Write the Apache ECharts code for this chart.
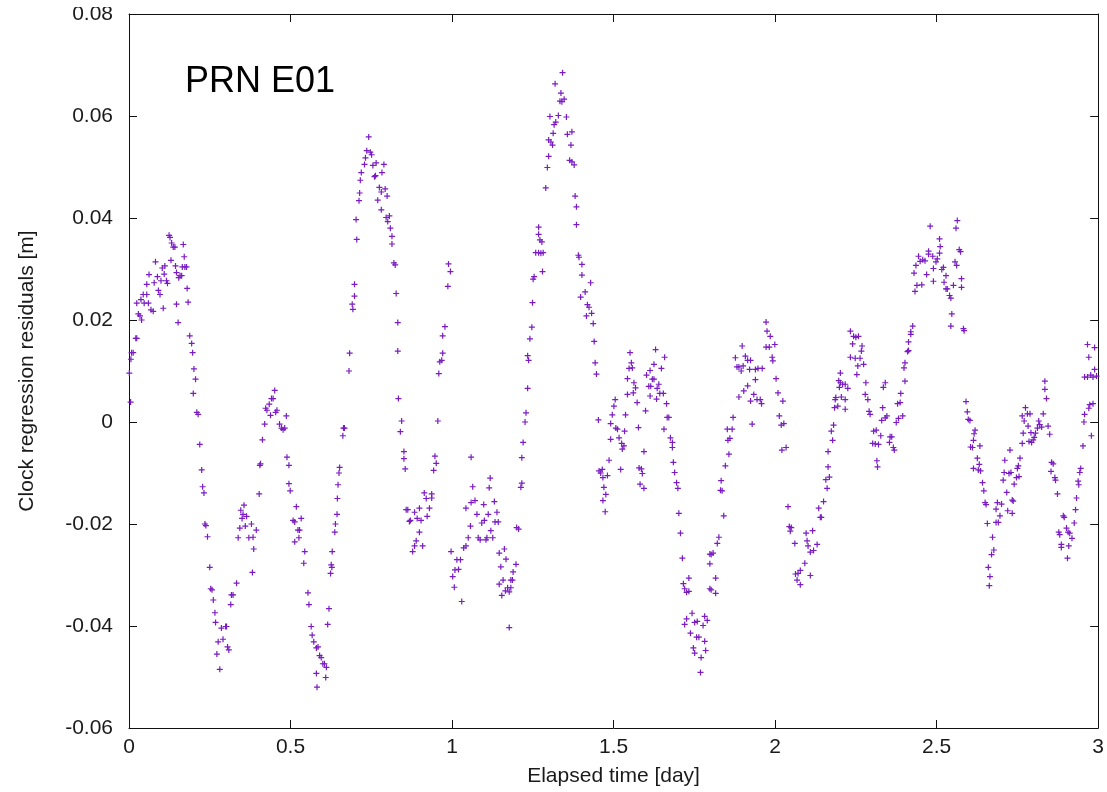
<!DOCTYPE html>
<html>
<head>
<meta charset="utf-8">
<script src="https://cdn.jsdelivr.net/npm/echarts@6/dist/echarts.min.js"></script>
<style>
html,body{margin:0;padding:0;background:#fff;}
#chart{width:1107px;height:792px;}
</style>
</head>
<body>
<div id="chart"></div>
<script>
// ---- data ----
const chartTitle = 'PRN E01';
const xAxisName = 'Elapsed time [day]';
const yAxisName = 'Clock regression residuals [m]';
const xTickValues = [0, 0.5, 1, 1.5, 2, 2.5, 3];
const xTickLabels = ['0', '0.5', '1', '1.5', '2', '2.5', '3'];
const yTickValues = [-0.06, -0.04, -0.02, 0, 0.02, 0.04, 0.06, 0.08];
const yTickLabels = ['-0.06', '-0.04', '-0.02', '0', '0.02', '0.04', '0.06', '0.08'];

// elapsed time [day]
const elapsedDays = [
0.001,0.005,0.006,0.008,0.013,0.021,0.024,0.024,0.029,0.034,0.037,0.039,0.044,0.047,0.055,0.055,0.060,0.062,0.068,0.075,
0.078,0.082,0.088,0.091,0.096,0.099,0.103,0.106,0.109,0.111,0.116,0.119,0.124,0.127,0.130,0.132,0.137,0.142,0.144,0.147,
0.147,0.152,0.154,0.158,0.163,0.165,0.168,0.171,0.173,0.178,0.180,0.183,0.188,0.194,0.197,0.199,0.201,0.206,0.210,0.214,
0.219,0.225,0.228,0.232,0.235,0.238,0.243,0.250,0.253,0.257,0.261,0.266,0.268,0.272,0.276,0.281,0.286,0.291,0.299,0.302,
0.305,0.309,0.315,0.317,0.322,0.333,0.338,0.343,0.346,0.350,0.353,0.356,0.360,0.364,0.371,
0.379,0.382,0.384,0.386,0.394,0.403,0.405,0.407,0.413,0.420,0.423,0.427,0.434,0.438,0.441,0.446,0.451,0.454,0.458,0.466,
0.472,0.477,0.482,0.487,0.489,0.495,0.495,0.499,0.508,0.513,0.513,0.518,0.523,0.526,0.528,0.533,0.541,0.544,0.554,0.557,
0.564,0.567,0.572,0.580,0.580,0.582,0.585,0.590,0.595,0.600,0.605,0.609,0.611,0.615,0.619,0.624,0.626,0.628,0.629,0.637,
0.639,0.644,0.645,0.647,0.650,0.652,0.662,0.664,0.667,0.681,0.683,0.691,0.693,0.698,0.698,0.703,0.705,0.712,0.714,0.716,
0.719,0.729,0.732,0.736,0.742,0.747,0.751,0.755,0.760,
0.763,0.765,0.770,0.775,0.781,0.781,0.783,0.789,0.793,0.796,0.799,0.801,0.806,0.809,0.814,0.814,0.820,0.824,0.827,0.832,
0.832,0.834,0.840,0.844,0.851,0.851,0.855,0.858,0.863,0.868,0.871,0.878,0.884,0.884,0.889,0.892,0.899,0.899,0.904,0.909,
0.914,0.920,0.923,0.930,0.937,0.937,0.943,0.947,0.951,0.956,0.959,0.962,0.968,0.971,0.971,0.978,0.987,0.989,0.995,0.997,
1.002,1.007,1.009,1.015,1.020,1.026,1.030,1.036,1.043,1.043,1.050,1.057,1.059,1.059,1.064,1.071,1.077,1.081,1.087,1.092,
1.098,1.100,1.105,1.108,1.112,1.115,1.118,1.120,1.126,1.131,1.133,1.139,1.143,
1.146,1.146,1.151,1.154,1.158,1.162,1.165,1.167,1.172,1.177,1.177,1.182,1.182,1.187,1.189,1.198,1.200,1.206,1.213,1.216,
1.216,1.220,1.226,1.229,1.234,1.234,1.237,1.241,1.247,1.249,1.251,1.254,1.259,1.268,1.268,1.268,1.272,1.275,1.278,1.280,
1.282,1.290,1.295,1.299,1.299,1.303,1.306,1.311,1.313,1.316,1.319,1.321,1.329,1.334,1.337,1.340,1.342,1.347,1.354,1.357,
1.364,1.368,1.371,1.371,1.378,1.381,1.385,1.385,1.391,1.393,1.398,1.402,1.402,1.412,1.416,1.419,1.424,1.429,1.432,1.437,
1.440,1.443,1.447,1.453,1.455,1.460,1.465,1.467,1.467,1.470,1.474,1.476,1.481,1.486,1.491,1.491,1.496,1.501,1.505,1.507,
1.512,1.517,1.522,1.525,1.527,
1.532,1.534,1.537,1.543,1.543,1.548,1.551,1.555,1.558,1.561,1.563,1.568,1.573,1.577,1.579,1.582,1.586,1.589,1.594,1.594,
1.599,1.602,1.609,1.613,1.613,1.615,1.620,1.625,1.625,1.630,1.633,1.635,1.640,1.643,1.648,1.654,1.656,1.658,1.664,1.666,
1.671,1.676,1.682,1.682,1.685,1.689,1.695,1.699,1.702,1.707,1.713,1.716,1.720,1.720,1.726,1.726,1.733,1.733,1.738,1.743,
1.747,1.751,1.751,1.757,1.759,1.764,1.769,1.771,1.777,1.782,1.782,1.785,1.790,1.798,1.798,1.798,1.802,1.802,1.808,1.816,
1.816,1.821,1.826,1.831,1.833,1.836,1.841,1.846,1.852,1.854,1.857,1.860,1.867,1.870,1.877,1.882,1.888,1.888,1.895,1.898,
1.901,1.903,1.908,1.915,1.915,
1.921,1.924,1.924,1.929,1.934,1.939,1.939,1.944,1.947,1.954,1.958,1.960,1.972,1.972,1.975,1.982,1.985,1.991,1.993,1.999,
2.003,2.009,2.013,2.019,2.021,2.024,2.027,2.034,2.040,2.044,2.047,2.050,2.061,2.063,2.068,2.071,2.078,2.078,2.092,2.096,
2.099,2.102,2.109,2.109,2.116,2.119,2.130,2.135,2.140,2.143,2.150,2.157,2.161,2.164,2.164,2.168,2.174,2.178,2.181,2.184,
2.186,2.188,2.194,2.197,2.199,2.202,2.202,2.205,2.209,2.217,2.217,2.217,2.225,2.233,2.233,2.240,2.243,2.248,2.250,2.253,
2.256,2.258,2.263,2.267,2.269,2.274,2.279,2.281,2.287,2.291,2.294,2.302,
2.305,2.310,2.313,2.315,2.317,2.320,2.327,2.330,2.333,2.335,2.341,2.341,2.346,2.354,2.356,2.361,2.366,2.369,2.375,2.379,
2.382,2.387,2.389,2.395,2.399,2.402,2.402,2.410,2.413,2.413,2.420,2.420,2.426,2.430,2.433,2.436,2.439,2.444,2.449,2.454,
2.457,2.464,2.469,2.475,2.475,2.480,2.488,2.490,2.490,2.498,2.502,2.509,2.509,2.511,2.516,2.521,2.523,2.529,2.529,2.533,
2.540,2.544,2.544,2.547,2.552,2.557,2.560,2.562,2.564,2.570,2.574,2.577,2.577,2.583,2.585,2.591,2.595,2.598,2.603,2.605,
2.611,2.614,2.614,2.616,2.619,2.626,2.629,2.632,2.634,2.636,2.642,2.646,2.650,2.653,2.657,2.660,2.663,2.665,2.670,2.673,
2.677,2.684,2.684,2.688,
2.691,2.696,2.701,2.706,2.709,2.711,2.717,2.720,2.724,2.727,2.730,2.734,2.734,2.737,2.740,2.747,2.750,2.753,2.755,2.758,
2.765,2.765,2.768,2.771,2.775,2.781,2.783,2.786,2.789,2.792,2.794,2.799,2.802,2.806,2.812,2.816,2.819,2.825,2.830,2.835,
2.835,2.840,2.845,2.850,2.854,2.856,2.861,2.866,2.868,2.874,2.878,2.881,2.886,2.886,2.892,2.895,2.902,2.905,2.907,2.909,
2.912,2.919,2.926,2.930,2.933,2.938,2.940,2.943,2.946,2.953,2.956,2.958,2.958,2.967,2.967,2.971,2.971,2.974,2.977,2.979,
2.984,2.984,2.989,2.989,2.995
];

// clock regression residuals [m]
const residualsM = [
0.0096,0.0039,0.0123,0.0136,0.0136,0.0164,0.0164,0.0233,0.0212,0.0208,0.0240,0.0200,0.0250,0.0233,0.0270,0.0250,0.0233,0.0289,0.0220,0.0217,
0.0273,0.0314,0.0285,0.0258,0.0250,0.0277,0.0302,0.0223,0.0290,0.0306,0.0277,0.0272,0.0366,0.0362,0.0317,0.0351,0.0343,0.0343,0.0306,0.0293,
0.0231,0.0195,0.0283,0.0287,0.0287,0.0304,0.0348,0.0324,0.0304,0.0304,0.0262,0.0235,0.0169,0.0154,0.0136,0.0056,0.0104,0.0084,0.0019,0.0015,
-0.0044,-0.0094,-0.0127,-0.0139,-0.0200,-0.0203,-0.0225,-0.0285,-0.0327,-0.0329,-0.0349,-0.0374,-0.0393,-0.0455,-0.0431,-0.0485,-0.0404,-0.0426,-0.0401,-0.0401,
-0.0441,-0.0447,-0.0358,-0.0339,-0.0339,-0.0316,-0.0227,-0.0208,-0.0173,-0.0189,-0.0181,-0.0163,-0.0204,-0.0185,-0.0227,
-0.0200,-0.0295,-0.0226,-0.0249,-0.0212,-0.0141,-0.0085,-0.0082,-0.0035,-0.0004,0.0027,0.0023,0.0035,0.0013,0.0046,0.0046,0.0062,0.0019,0.0023,-0.0004,
-0.0012,-0.0015,-0.0012,0.0012,-0.0069,-0.0085,-0.0121,-0.0135,-0.0193,-0.0196,-0.0235,-0.0166,-0.0212,-0.0227,-0.0212,-0.0189,-0.0277,-0.0254,-0.0335,-0.0358,
-0.0401,-0.0418,-0.0431,-0.0443,-0.0493,-0.0520,-0.0441,-0.0458,-0.0462,-0.0474,-0.0474,-0.0501,-0.0481,-0.0397,-0.0366,-0.0297,-0.0280,-0.0285,-0.0254,-0.0216,
-0.0200,-0.0181,-0.0150,-0.0123,-0.0100,-0.0089,-0.0027,-0.0012,-0.0012,0.0100,0.0135,0.0231,0.0221,0.0247,0.0270,0.0397,0.0358,0.0434,0.0449,0.0474,
0.0489,0.0505,0.0518,0.0532,0.0559,0.0529,0.0524,0.0503,0.0481,
0.0483,0.0508,0.0435,0.0460,0.0451,0.0416,0.0489,0.0505,0.0457,0.0401,0.0443,0.0393,0.0404,0.0380,0.0364,0.0349,0.0312,0.0308,0.0252,0.0195,
0.0139,0.0046,-0.0019,0.0002,-0.0058,-0.0072,-0.0092,-0.0172,-0.0172,-0.0195,-0.0193,-0.0254,-0.0177,-0.0243,-0.0233,-0.0189,-0.0169,-0.0216,-0.0193,-0.0243,
-0.0139,-0.0150,-0.0185,-0.0169,-0.0141,-0.0149,-0.0095,-0.0067,-0.0081,0.0002,0.0095,0.0118,0.0121,0.0135,0.0169,0.0187,0.0266,0.0310,0.0295,-0.0254,
-0.0303,-0.0324,-0.0290,-0.0270,-0.0289,-0.0270,-0.0352,-0.0247,-0.0243,-0.0169,-0.0227,-0.0204,-0.0069,-0.0158,-0.0127,-0.0154,-0.0181,-0.0227,-0.0231,-0.0198,
-0.0162,-0.0193,-0.0231,-0.0227,-0.0181,-0.0129,-0.0110,-0.0213,-0.0227,-0.0156,-0.0196,-0.0177,-0.0196,
-0.0257,-0.0318,-0.0284,-0.0340,-0.0310,-0.0249,-0.0331,-0.0269,-0.0325,-0.0333,-0.0403,-0.0325,-0.0310,-0.0310,-0.0294,-0.0279,-0.0207,-0.0210,-0.0128,-0.0120,
-0.0070,-0.0040,0.0000,0.0018,0.0066,0.0130,0.0121,0.0163,0.0186,0.0234,0.0280,0.0285,0.0332,0.0332,0.0368,0.0382,0.0357,0.0331,0.0353,0.0295,
0.0332,0.0459,0.0499,0.0521,0.0553,0.0599,0.0549,0.0543,0.0566,0.0583,0.0663,0.0588,0.0601,0.0629,0.0645,0.0628,0.0685,0.0633,0.0598,0.0564,
0.0513,0.0543,0.0569,0.0510,0.0504,0.0443,0.0422,0.0387,0.0327,0.0323,0.0245,0.0309,0.0288,0.0255,0.0208,0.0230,0.0225,0.0273,0.0213,0.0193,
0.0158,0.0116,0.0094,0.0004,-0.0096,-0.0100,-0.0093,-0.0109,-0.0154,-0.0128,-0.0176,-0.0142,-0.0105,-0.0075,-0.0034,-0.0003,0.0014,0.0031,0.0044,-0.0012,
-0.0014,-0.0031,-0.0093,-0.0042,-0.0053,
-0.0047,-0.0018,0.0014,0.0054,0.0085,0.0105,0.0136,0.0116,0.0106,0.0057,0.0077,0.0067,0.0038,-0.0011,-0.0090,-0.0122,-0.0092,-0.0101,-0.0058,-0.0130,
0.0022,0.0092,0.0070,0.0101,0.0051,0.0070,0.0084,0.0084,0.0113,0.0142,0.0045,0.0066,0.0074,0.0056,0.0105,0.0056,-0.0014,0.0127,0.0036,0.0009,
0.0009,-0.0031,-0.0040,-0.0050,-0.0079,-0.0099,-0.0119,-0.0130,-0.0179,-0.0218,-0.0267,-0.0317,-0.0327,-0.0397,-0.0334,-0.0386,-0.0306,-0.0332,-0.0414,-0.0375,
-0.0443,-0.0393,-0.0453,-0.0422,-0.0391,-0.0422,-0.0491,-0.0462,-0.0399,-0.0430,-0.0381,-0.0448,-0.0389,-0.0327,-0.0278,-0.0259,-0.0329,-0.0260,-0.0257,-0.0336,
-0.0306,-0.0238,-0.0226,-0.0134,-0.0115,-0.0135,-0.0184,-0.0086,-0.0014,-0.0036,-0.0063,-0.0032,-0.0014,0.0009,0.0126,0.0108,0.0108,0.0049,0.0100,0.0149,
0.0110,0.0061,0.0129,0.0121,0.0071,
0.0103,0.0121,0.0041,-0.0004,0.0054,0.0103,0.0083,0.0044,0.0105,0.0044,0.0036,0.0105,0.0196,0.0147,0.0178,0.0147,0.0168,0.0127,0.0120,0.0152,
0.0085,0.0057,0.0012,-0.0006,-0.0055,0.0041,-0.0003,-0.0050,-0.0166,-0.0205,-0.0214,-0.0207,-0.0238,-0.0298,-0.0310,-0.0297,-0.0291,-0.0319,-0.0277,-0.0218,
-0.0233,-0.0243,-0.0255,-0.0301,-0.0213,-0.0252,-0.0240,-0.0169,-0.0187,-0.0187,-0.0156,-0.0113,-0.0130,-0.0088,-0.0058,-0.0108,-0.0018,-0.0036,-0.0006,0.0028,
0.0044,0.0048,0.0031,0.0081,0.0068,0.0096,0.0077,0.0049,0.0074,0.0074,0.0044,0.0025,0.0066,0.0127,0.0178,0.0153,0.0168,0.0125,0.0166,0.0093,
0.0110,0.0168,0.0125,0.0139,0.0149,0.0113,0.0054,0.0077,0.0044,0.0021,0.0015,-0.0042,
-0.0018,-0.0043,-0.0016,-0.0076,-0.0088,-0.0044,-0.0027,0.0003,0.0028,0.0068,0.0077,0.0008,0.0012,-0.0040,-0.0029,-0.0029,-0.0050,-0.0055,-0.0001,0.0036,
0.0007,0.0038,0.0056,0.0012,0.0106,0.0116,0.0080,0.0138,0.0140,0.0157,0.0172,0.0177,0.0188,0.0292,0.0256,0.0307,0.0268,0.0325,0.0315,0.0269,
0.0318,0.0316,0.0289,0.0335,0.0329,0.0384,0.0325,0.0301,0.0276,0.0314,0.0320,0.0359,0.0331,0.0344,0.0299,0.0303,0.0274,0.0261,0.0287,0.0261,
0.0248,0.0243,0.0188,0.0212,0.0268,0.0314,0.0380,0.0307,0.0395,0.0338,0.0334,0.0281,0.0264,0.0183,0.0179,0.0040,0.0020,0.0005,0.0003,-0.0049,
-0.0050,-0.0036,-0.0091,-0.0023,-0.0016,-0.0071,-0.0094,-0.0083,-0.0047,-0.0096,-0.0119,-0.0135,-0.0158,-0.0162,-0.0199,-0.0285,-0.0321,-0.0303,-0.0260,-0.0226,
-0.0251,-0.0171,-0.0197,-0.0158,
-0.0197,-0.0184,-0.0161,-0.0114,-0.0099,-0.0075,-0.0138,-0.0174,-0.0101,-0.0055,-0.0099,-0.0153,-0.0179,-0.0155,-0.0122,-0.0109,-0.0091,-0.0086,-0.0107,-0.0071,
-0.0042,0.0012,-0.0022,0.0002,0.0028,0.0016,-0.0008,-0.0038,0.0016,-0.0021,-0.0040,-0.0035,-0.0030,-0.0022,-0.0012,0.0002,-0.0005,-0.0010,0.0016,0.0080,
0.0064,0.0046,-0.0008,-0.0024,-0.0097,-0.0079,-0.0082,-0.0109,-0.0114,-0.0141,-0.0216,-0.0221,-0.0240,-0.0246,-0.0184,-0.0187,-0.0208,-0.0267,-0.0216,-0.0243,
-0.0218,-0.0228,-0.0198,-0.0172,-0.0149,-0.0116,-0.0123,-0.0099,-0.0091,-0.0047,0.0000,0.0015,0.0088,0.0088,0.0152,0.0127,0.0027,0.0034,0.0092,-0.0027,
0.0036,0.0088,0.0103,0.0146,0.0090
];

// ---- chart ----
const FONT = '"Liberation Sans", Arial, Helvetica, sans-serif';
const TEXT_COLOR = '#1a1a1a';
const AXIS_COLOR = '#111';
const POINT_COLOR = '#7a1cc0';

const points = elapsedDays.map((d, i) => [d, residualsM[i]]);

function lookup(values, labels, v) {
  const k = values.findIndex(t => Math.abs(t - v) < 1e-9);
  return k >= 0 ? labels[k] : '';
}

const chart = echarts.init(document.getElementById('chart'), null, {renderer: 'canvas'});

const baseAxisLine = {show: true, onZero: false, lineStyle: {color: AXIS_COLOR, width: 1}};
const baseTick = {show: true, inside: true, length: 8, lineStyle: {color: AXIS_COLOR, width: 1}};

chart.setOption({
  animation: false,
  backgroundColor: '#fff',
  textStyle: {fontFamily: FONT},
  grid: {left: 129, right: 7, top: 14, bottom: 64, containLabel: false},
  graphic: [{
    type: 'text',
    left: 185,
    top: 64,
    style: {text: chartTitle, fontSize: 36, fontFamily: FONT, fill: '#000'}
  }, {
    // the reference picture is cropped just above the top tick label
    type: 'rect',
    left: 50, top: 0, z: 100,
    shape: {width: 75, height: 7},
    style: {fill: '#fff'},
    silent: true
  }],
  xAxis: [{
    type: 'value', min: 0, max: 3, interval: 0.5, position: 'bottom',
    axisLine: baseAxisLine, axisTick: baseTick, splitLine: {show: false},
    axisLabel: {margin: 9, fontSize: 21, color: TEXT_COLOR, fontFamily: FONT,
      formatter: v => lookup(xTickValues, xTickLabels, v)},
    name: xAxisName, nameLocation: 'middle', nameGap: 38,
    nameTextStyle: {fontSize: 21, color: TEXT_COLOR, fontFamily: FONT}
  }, {
    type: 'value', min: 0, max: 3, interval: 0.5, position: 'top',
    axisLine: baseAxisLine, axisTick: baseTick, splitLine: {show: false},
    axisLabel: {show: false}
  }],
  yAxis: [{
    type: 'value', min: -0.06, max: 0.08, interval: 0.02, position: 'left',
    axisLine: baseAxisLine, axisTick: baseTick, splitLine: {show: false},
    axisLabel: {margin: 16, fontSize: 21, color: TEXT_COLOR, fontFamily: FONT,
      formatter: v => lookup(yTickValues, yTickLabels, v)},
    name: yAxisName, nameLocation: 'middle', nameRotate: 90, nameGap: 91,
    nameTextStyle: {fontSize: 21, color: TEXT_COLOR, fontFamily: FONT}
  }, {
    type: 'value', min: -0.06, max: 0.08, interval: 0.02, position: 'right',
    axisLine: baseAxisLine, axisTick: baseTick, splitLine: {show: false},
    axisLabel: {show: false}
  }],
  series: [{
    type: 'scatter',
    xAxisIndex: 0, yAxisIndex: 0,
    data: points,
    symbol: 'path://M2,0H3V2H5V3H3V5H2V3H0V2H2Z',
    symbolSize: 6,
    itemStyle: {color: POINT_COLOR, opacity: 1},
    emphasis: {disabled: true},
    silent: true
  }]
});
</script>
</body>
</html>
